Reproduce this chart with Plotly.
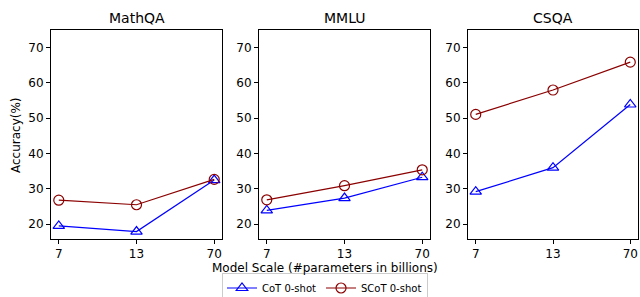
import plotly.graph_objects as go
from plotly.subplots import make_subplots

scales = ["7", "13", "70"]
panels = ["MathQA", "MMLU", "CSQA"]
cot = {
    "MathQA": [19.5, 17.9, 32.5],
    "MMLU": [23.9, 27.4, 33.3],
    "CSQA": [29.2, 36.0, 53.9],
}
scot = {
    "MathQA": [26.8, 25.5, 32.7],
    "MMLU": [26.9, 30.9, 35.4],
    "CSQA": [51.1, 58.0, 65.9],
}
yticks = [20, 30, 40, 50, 60, 70]

W, H = 640, 297
L, R, T, B = 51, 2, 30, 58
PW, PH = W - L - R, H - T - B
fig = make_subplots(rows=1, cols=3)
font = "DejaVu Sans, Liberation Sans, sans-serif"

xpix = [(51, 222), (259, 430), (468, 638)]


def px(x):
    return (x - L) / PW


def py(y):
    return (H - B - y) / PH


for i, p in enumerate(panels):
    fig.add_trace(go.Scatter(
        x=scales, y=cot[p], mode="lines+markers", name="CoT 0-shot",
        line=dict(color="blue", width=1.2),
        marker=dict(symbol="triangle-up-open", size=10, color="blue", line=dict(width=1.2)),
        showlegend=(i == 0), legendgroup="cot"), row=1, col=i + 1)
    fig.add_trace(go.Scatter(
        x=scales, y=scot[p], mode="lines+markers", name="SCoT 0-shot",
        line=dict(color="darkred", width=1.2),
        marker=dict(symbol="circle-open", size=10, color="darkred", line=dict(width=1.2)),
        showlegend=(i == 0), legendgroup="scot"), row=1, col=i + 1)
    x0, x1 = xpix[i]
    xa = "xaxis" if i == 0 else f"xaxis{i+1}"
    ya = "yaxis" if i == 0 else f"yaxis{i+1}"
    fig.layout[xa].update(domain=[px(x0), px(x1)], type="category", range=[-0.1, 2.1],
                          showline=True, mirror=True, linecolor="black", linewidth=1,
                          ticks="outside", ticklen=4, tickcolor="black", showgrid=False,
                          zeroline=False, automargin=False,
                          tickfont=dict(size=12, color="black"))
    fig.layout[ya].update(domain=[0, 1], range=[15.8, 75],
                          tickvals=yticks, showline=True, mirror=True, linecolor="black",
                          linewidth=1, ticks="outside", ticklen=4, tickcolor="black",
                          showgrid=False, zeroline=False, automargin=False,
                          tickfont=dict(size=12, color="black"))
    fig.add_annotation(text=p, x=px((x0 + x1) / 2), y=py(18), xref="paper", yref="paper",
                       showarrow=False, font=dict(size=14, color="black"),
                       xanchor="center", yanchor="middle")

fig.add_annotation(text="Model Scale (#parameters in billions)", x=px(325), y=py(268),
                   xref="paper", yref="paper", showarrow=False,
                   font=dict(size=12, color="black"), xanchor="center", yanchor="middle")
fig.add_annotation(text="Accuracy(%)", x=px(16), y=py(135), xref="paper", yref="paper",
                   showarrow=False, textangle=-90, font=dict(size=12, color="black"),
                   xanchor="center", yanchor="middle")

fig.update_layout(
    width=W, height=H, margin=dict(l=L, r=R, t=T, b=B, autoexpand=False),
    plot_bgcolor="white", paper_bgcolor="white",
    font=dict(family=font, color="black"),
    legend=dict(orientation="h", x=px(325), y=py(288), xanchor="center", yanchor="middle",
                bordercolor="#cccccc", borderwidth=1, font=dict(size=10),
                itemwidth=30, tracegroupgap=0),
)
fig.write_html("out.html", config={"displayModeBar": False},
               post_script="document.body.style.margin='0';document.body.style.padding='0';"
                           "document.body.style.overflow='hidden';")
